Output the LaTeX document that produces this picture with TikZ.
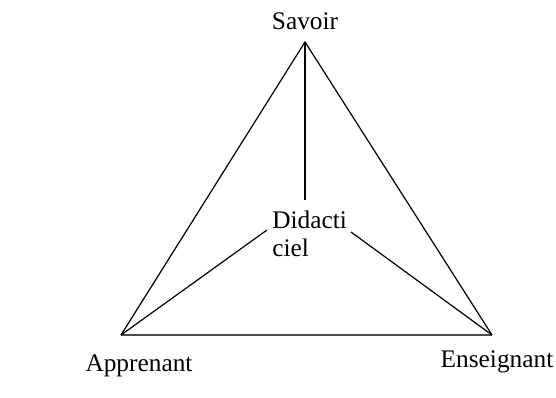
\documentclass[tikz,border=0pt]{standalone}
\usepackage{fontspec}
\setmainfont{Liberation Serif}
\usepackage{tikz}
\usetikzlibrary{positioning,calc}

\begin{document}
\begin{tikzpicture}[
  x=0.75pt, y=-0.75pt,
  lbl/.style={inner sep=0pt, font=\fontsize{19}{21}\selectfont},
  side/.style={draw=black, line width=0.9pt},
  base/.style={draw=black!70, line width=1.4pt}
]
\useasboundingbox (0,0) rectangle (556,398);
% vertices of the triangle
\coordinate (sav) at (305,42);
\coordinate (app) at (121,335);
\coordinate (ens) at (492,335);
% labels
\node[lbl, anchor=base] (savoir) at (305,30) {Savoir};
\node[lbl, anchor=base] (apprenant) at (139,372) {Apprenant};
\node[lbl, anchor=base] (enseignant) at (497,368) {Enseignant};
\node[lbl, anchor=north west, align=left] (didac) at (272,211) {Didacti\\ciel};
% ends of the inner lines
\coordinate (dtop) at (305,200);
\coordinate (dleft) at (267,230);
\coordinate (dright) at (351,232);
\draw[side] (app) -- (sav) -- (ens);
\draw[base] (app) -- (ens);
\draw[side] (sav) -- (dtop);
\draw[side] (app) -- (dleft);
\draw[side] (ens) -- (dright);
\end{tikzpicture}
\end{document}
